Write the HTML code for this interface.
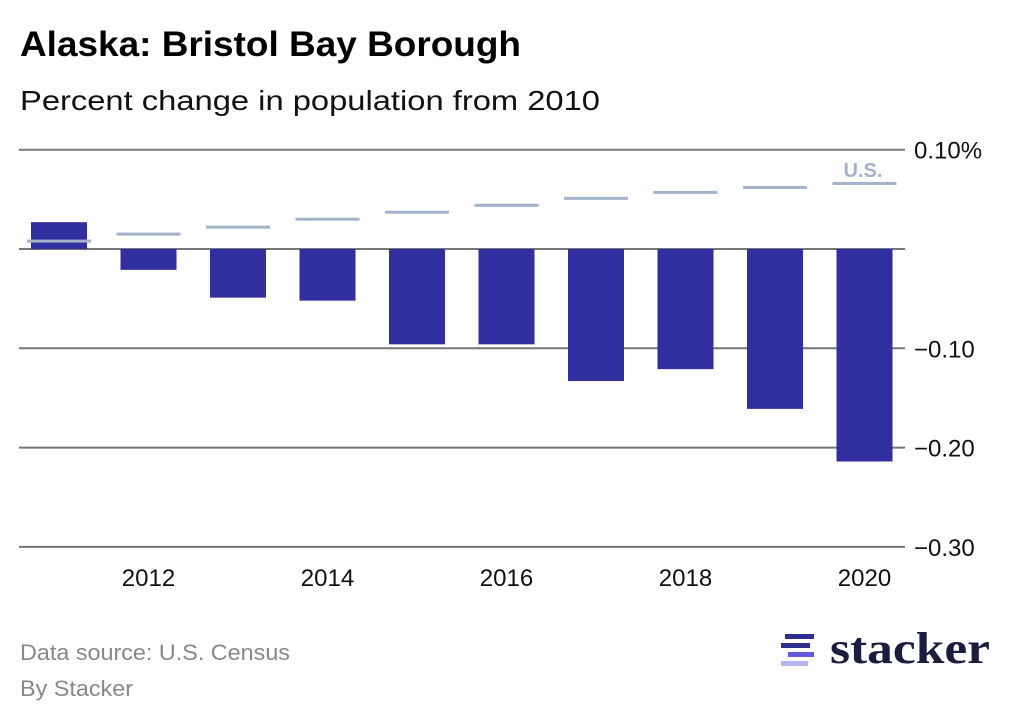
<!DOCTYPE html>
<html><head><meta charset="utf-8"><style>
body{margin:0;background:#fff;width:1010px;height:720px;overflow:hidden;font-family:"Liberation Sans",sans-serif}
</style></head><body>
<svg width="1010" height="720" id="svg">
<text x="20" y="56" font-size="35" font-weight="bold" fill="#000" textLength="501" lengthAdjust="spacingAndGlyphs">Alaska: Bristol Bay Borough</text>
<text x="20" y="110" font-size="28" fill="#111" textLength="580" lengthAdjust="spacingAndGlyphs">Percent change in population from 2010</text>
<g id="grid"></g><g id="bars"></g><g id="us"></g><g id="xt"></g>
<text x="863" y="177" font-size="20" font-weight="bold" fill="#a3b3cb" text-anchor="middle">U.S.</text>
<text x="20" y="660" font-size="22" fill="#888" textLength="270" lengthAdjust="spacingAndGlyphs">Data source: U.S. Census</text>
<text x="20" y="696" font-size="22" fill="#888" textLength="113" lengthAdjust="spacingAndGlyphs">By Stacker</text>
<g>
<rect x="785" y="634" width="29" height="5" fill="#2e2e8f"/>
<rect x="781" y="643" width="29" height="5" fill="#2e2e8f"/>
<rect x="788" y="652" width="26" height="5" fill="#6459e0"/>
<rect x="781" y="661" width="27" height="5" fill="#b8b5f5"/>
<text x="830" y="663" font-family="Liberation Serif,serif" font-weight="bold" font-size="44" fill="#1b1c40" textLength="160" lengthAdjust="spacingAndGlyphs">stacker</text>
</g>
</svg>
<script>
const years=[2011,2012,2013,2014,2015,2016,2017,2018,2019,2020];
const values=[0.027,-0.021,-0.049,-0.052,-0.096,-0.096,-0.133,-0.121,-0.161,-0.214];
const usValues=[0.008,0.015,0.022,0.030,0.037,0.044,0.051,0.057,0.062,0.066];
const ticks=[0.1,0,-0.1,-0.2,-0.3];
const tickLabels=["0.10%","","−0.10","−0.20","−0.30"];
const xTicks=[2012,2014,2016,2018,2020];
const NS="http://www.w3.org/2000/svg";
const y=v=>249-v*993;
const x=yr=>59+(yr-2011)*89.5;
function mk(t,a,p){const e=document.createElementNS(NS,t);for(const k in a)e.setAttribute(k,a[k]);document.getElementById(p).appendChild(e);return e;}
ticks.forEach((t,i)=>{
 const l=mk('line',{x1:19,x2:905,y1:y(t),y2:y(t),stroke:'#777','stroke-width':2},'grid');
 
 
 if(tickLabels[i]){const tx=mk('text',{x:914,y:y(t)+9,'font-size':24,fill:'#111'},'grid');tx.textContent=tickLabels[i];
 
 }
});
years.forEach((yr,i)=>{
 const v=values[i];
 const b=mk('rect',{x:x(yr)-28,y:Math.min(y(v),y(0)),width:56,height:Math.abs(y(v)-y(0)),fill:'#312e9f'},'bars');
 
 
 const u=mk('rect',{x:x(yr)-32,y:y(usValues[i])-1.5,width:64,height:3,fill:'#a3b3cb'},'us');
 
 
});
xTicks.forEach(yr=>{
 const t=mk('text',{x:x(yr),y:586,'font-size':24,fill:'#111','text-anchor':'middle'},'xt');t.textContent=yr;
 
 
});
</script>
</body></html>
